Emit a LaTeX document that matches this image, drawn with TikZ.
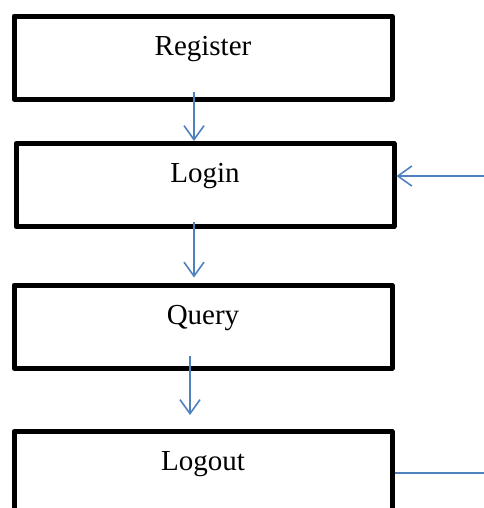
\documentclass[tikz,border=0pt]{standalone}
\usepackage{fontspec}
\setmainfont{Liberation Serif}
\usetikzlibrary{arrows.meta}
\definecolor{flowblue}{HTML}{4F81BD}
\def\u{0.75pt}
\tikzset{
  box/.style={draw=black, line width=5*\u, line join=round, rectangle,
    minimum width=378*\u, minimum height=83*\u, inner sep=0pt},
  lbl/.style={anchor=base, inner sep=0pt, font=\fontsize{21.75pt}{26pt}\selectfont},
  flow/.style={draw=flowblue, line width=1.6*\u},
  flowarrow/.style={flow, -{Straight Barb[length=14*\u, width=20*\u, line width=1.6*\u]}}
}
\begin{document}
\begin{tikzpicture}[x=\u, y=-\u]
\useasboundingbox (0,0) rectangle (484,508);
\clip (0,0) rectangle (484,508);
\node[box] (reg) at (203,57.5) {};
\node[box] (login) at (205,185) {};
\node[box] (query) at (203,326.5) {};
\node[box] (logout) at (203,473) {};
\node[lbl] (regt) at ([yshift=-41.5*\u]reg.north) {Register};
\node[lbl] (logint) at ([yshift=-41.5*\u]login.north) {Login};
\node[lbl] (queryt) at ([yshift=-41.5*\u]query.north) {Query};
\node[lbl] (logoutt) at ([yshift=-41.5*\u]logout.north) {Logout};
\coordinate (inR) at (484,176);
\coordinate (outR) at (484,473);
\draw[flowarrow] ([xshift=-9*\u, yshift=10*\u]reg.south) -- ([xshift=-11*\u]login.north);
\draw[flowarrow] (inR) -- ([yshift=9*\u]login.east);
\draw[flowarrow] ([xshift=-11*\u, yshift=7*\u]login.south) -- ([xshift=-9*\u, yshift=5*\u]query.north);
\draw[flowarrow] ([xshift=-13*\u, yshift=15*\u]query.south) -- ([xshift=-13*\u, yshift=14*\u]logout.north);
\draw[flow] (logout.east) -- (outR);
\end{tikzpicture}
\end{document}
